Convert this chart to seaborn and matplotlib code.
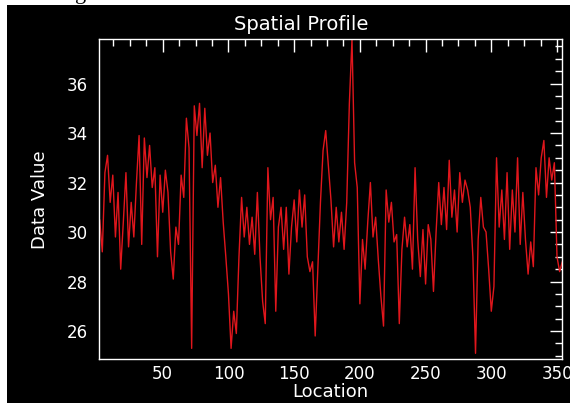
import numpy as np
import matplotlib
matplotlib.use("Agg")
import matplotlib.pyplot as plt
from matplotlib.patches import Rectangle
from matplotlib.ticker import MultipleLocator
import seaborn as sns

# Profile samples (every second location along the cut)
locations = np.arange(2, 355, 2)
data_values = [
    30.5, 29.2, 32.4, 33.1, 31.2, 32.3, 29.8, 31.6, 28.5, 30.4,
    32.4, 29.4, 31.2, 29.8, 32.0, 33.9, 29.5, 33.8, 32.2, 33.5,
    31.8, 32.6, 29.0, 32.3, 30.8, 32.5, 31.6, 29.2, 28.1, 30.2,
    29.5, 32.3, 31.4, 34.6, 33.4, 25.3, 35.1, 33.9, 35.2, 32.6,
    35.0, 33.1, 34.0, 32.0, 32.7, 31.0, 32.2, 30.4, 29.0, 27.5,
    25.3, 26.8, 25.9, 29.0, 31.4, 29.8, 31.0, 29.5, 30.6, 29.1,
    31.6, 29.0, 27.2, 26.3, 32.6, 30.5, 31.4, 26.8, 30.2, 31.0,
    29.3, 31.0, 28.3, 30.2, 31.3, 29.6, 31.7, 30.2, 31.5, 29.0,
    28.4, 28.8, 25.8, 28.5, 31.2, 33.3, 34.1, 32.7, 31.3, 29.4,
    31.0, 29.6, 30.8, 29.3, 31.2, 35.2, 37.8, 32.8, 31.8, 27.1,
    29.7, 28.5, 30.4, 32.0, 29.8, 30.6, 28.9, 27.4, 26.2, 31.7,
    30.4, 31.2, 29.6, 29.9, 26.3, 29.3, 30.6, 29.4, 30.3, 28.5,
    32.6, 29.7, 28.2, 30.1, 27.9, 30.3, 29.7, 27.6, 30.0, 32.0,
    30.3, 31.8, 30.1, 32.9, 30.6, 31.7, 30.0, 32.4, 31.2, 32.1,
    31.7, 31.0, 29.0, 25.1, 29.7, 31.4, 30.2, 30.0, 28.5, 26.8,
    27.8, 33.0, 30.2, 31.7, 29.7, 32.4, 29.3, 31.7, 30.0, 33.0,
    29.5, 31.6, 29.7, 28.3, 29.6, 28.6, 32.6, 31.5, 33.0, 33.7,
    31.4, 33.0, 32.1, 32.8, 29.0, 28.4, 28.8,
]

title_text = "Spatial Profile"
x_label = "Location"
y_label = "Data Value"

sns.set_style("dark")
plt.rcParams["font.family"] = ["DejaVu Sans"]

W, H = 570, 403
fig = plt.figure(figsize=(W / 100, H / 100), dpi=100)
fig.patch.set_facecolor("white")

# black drawing window
fig.add_artist(Rectangle((7 / W, 0), (W - 7) / W, (H - 5) / H,
                         transform=fig.transFigure, facecolor="black",
                         edgecolor="none", zorder=0))
fig.text(81 / W, 1 + 1 / H, "g", family="Liberation Serif", fontsize=16,
         color="black", ha="center", va="baseline")

ax = fig.add_axes([99 / W, 44 / H, 463 / W, 320 / H])
ax.set_facecolor("black")

sns.lineplot(x=locations, y=data_values, ax=ax, color="#e0161c",
             linewidth=1.0, estimator=None)

ax.set_xlim(1.5, 353.8)
ax.set_ylim(24.87, 37.8)

ax.xaxis.set_major_locator(MultipleLocator(50))
ax.xaxis.set_minor_locator(MultipleLocator(12.5))
ax.yaxis.set_major_locator(MultipleLocator(2))
ax.yaxis.set_minor_locator(MultipleLocator(0.5))

ax.tick_params(which="both", direction="in", top=True, right=True,
               colors="white", width=1.0)
ax.tick_params(which="major", length=9, labelsize=12, pad=4)
ax.tick_params(which="minor", length=5)
ax.tick_params(axis="y", which="major", pad=8)
ax.grid(False)
for s in ax.spines.values():
    s.set_color("white")
    s.set_linewidth(1.0)
    s.set_visible(True)

ax.set_xlabel("")
ax.set_ylabel("")
fig.text(330 / W, 1 - 392 / H, x_label, color="white", fontsize=13,
         ha="center", va="center")
fig.text(40 / W, 1 - 200 / H, y_label, color="white", fontsize=13,
         ha="center", va="center", rotation=90)
fig.text(301 / W, 1 - 24 / H, title_text, color="white", fontsize=14,
         ha="center", va="center")

fig.savefig("out.png", dpi=100, facecolor=fig.get_facecolor())
